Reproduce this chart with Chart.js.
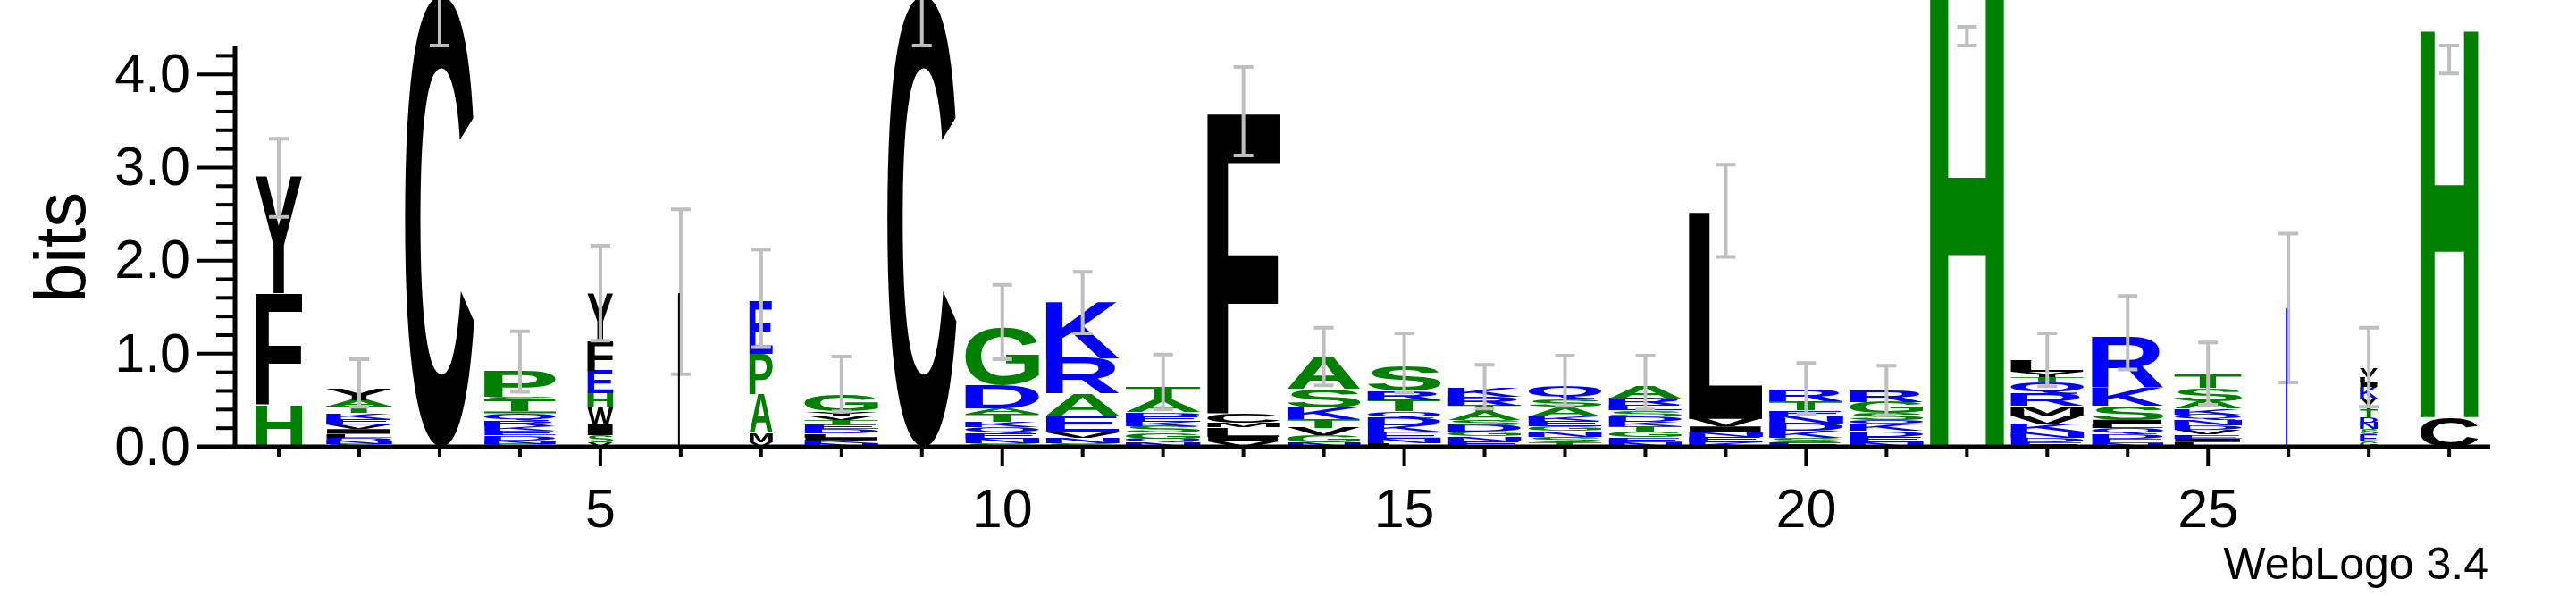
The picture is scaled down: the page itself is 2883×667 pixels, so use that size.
<!DOCTYPE html>
<html><head><meta charset="utf-8">
<script src="https://cdn.jsdelivr.net/npm/chart.js@4"></script>
<style>html,body{margin:0;padding:0;background:#fff}canvas{display:block}</style>
</head><body>
<canvas id="c" width="2883" height="667"></canvas>
<script>
const positions = [1,2,3,4,5,6,7,8,9,10,11,12,13,14,15,16,17,18,19,20,21,22,23,24,25,26,27,28];
// stacks: bottom -> top, [letter, bits]
const stacks = [
 [["H",0.45],["F",1.2],["Y",1.25]],
 [["S",0.03],["N",0.03],["D",0.04],["L",0.04],["I",0.05],["V",0.05],["E",0.06],["K",0.06],["T",0.07],["A",0.07],["Y",0.12]],
 [["C",4.85]],
 [["G",0.03],["N",0.04],["D",0.05],["E",0.05],["K",0.05],["R",0.06],["Q",0.08],["A",0.02],["T",0.12],["S",0.04],["P",0.28]],
 [["V",0.05],["S",0.07],["I",0.12],["W",0.18],["H",0.16],["E",0.24],["F",0.32],["Y",0.5]],
 [["I",1.65]],
 [["V",0.05],["M",0.1],["A",0.42],["P",0.43],["E",0.57]],
 [["N",0.04],["K",0.03],["I",0.03],["L",0.04],["D",0.05],["E",0.05],["T",0.05],["V",0.05],["Y",0.04],["G",0.17]],
 [["C",4.85]],
 [["S",0.04],["N",0.05],["E",0.06],["Q",0.06],["K",0.06],["T",0.08],["A",0.06],["D",0.25],["G",0.62]],
 [["S",0.04],["N",0.06],["V",0.06],["E",0.17],["A",0.24],["R",0.38],["K",0.6]],
 [["N",0.05],["Q",0.04],["G",0.06],["S",0.07],["K",0.05],["E",0.06],["D",0.04],["A",0.14],["T",0.13]],
 [["V",0.06],["I",0.05],["L",0.1],["M",0.05],["C",0.1],["F",3.24]],
 [["N",0.05],["G",0.07],["V",0.08],["T",0.1],["K",0.12],["S",0.2],["A",0.34]],
 [["L",0.04],["N",0.05],["E",0.07],["K",0.07],["D",0.08],["Q",0.07],["T",0.12],["R",0.1],["S",0.27]],
 [["E",0.06],["N",0.05],["G",0.05],["D",0.07],["S",0.06],["A",0.08],["T",0.07],["R",0.1],["K",0.1]],
 [["T",0.05],["S",0.06],["N",0.06],["G",0.05],["E",0.06],["K",0.05],["A",0.1],["S",0.08],["Q",0.14]],
 [["N",0.05],["E",0.05],["G",0.06],["T",0.06],["K",0.05],["D",0.06],["S",0.06],["E",0.06],["R",0.07],["A",0.14]],
 [["K",0.05],["E",0.06],["N",0.05],["I",0.06],["V",0.08],["L",2.22]],
 [["E",0.05],["S",0.05],["K",0.07],["D",0.08],["N",0.08],["E",0.06],["T",0.1],["R",0.12]],
 [["N",0.05],["E",0.06],["D",0.06],["K",0.07],["Q",0.05],["S",0.07],["G",0.12],["R",0.12]],
 [["H",4.85]],
 [["E",0.05],["D",0.05],["N",0.06],["K",0.08],["V",0.1],["M",0.1],["R",0.13],["Q",0.13],["T",0.05],["Y",0.06],["L",0.12]],
 [["N",0.04],["E",0.05],["D",0.05],["Q",0.06],["L",0.05],["I",0.04],["S",0.15],["K",0.2],["R",0.55]],
 [["L",0.05],["I",0.04],["E",0.04],["V",0.05],["D",0.05],["N",0.06],["Q",0.06],["K",0.06],["A",0.08],["S",0.14],["T",0.15]],
 [["K",1.49]],
 [["G",0.06],["E",0.07],["S",0.06],["N",0.07],["D",0.06],["T",0.08],["Y",0.12],["K",0.12],["I",0.05],["L",0.06],["V",0.1]],
 [["C",0.32],["H",4.18]]
];
const colWidth = [0.58,0.82,0.86,0.89,0.32,0.02,0.29,0.92,0.86,0.92,0.91,0.93,0.9,0.91,0.91,0.91,0.91,0.91,0.92,0.92,0.92,0.92,0.91,0.89,0.84,0.02,0.22,0.72];
const errLow  = [2.47,0.43,4.31,0.59,1.14,0.78,1.07,0.38,4.31,0.94,1.22,0.40,3.13,0.66,0.58,0.41,0.44,0.40,2.04,0.35,0.34,4.31,0.65,0.83,0.45,0.69,0.43,4.01];
const errHigh = [3.31,0.94,5.30,1.24,2.16,2.55,2.12,0.97,5.30,1.74,1.88,0.99,4.08,1.28,1.22,0.88,0.98,0.98,3.03,0.90,0.87,4.51,1.22,1.62,1.12,2.29,1.28,4.31];
const yTickLabels = ["0.0","1.0","2.0","3.0","4.0"];
const xTickLabels = [5,10,15,20,25];

const colorOf = l => ("CFYLWVMI".includes(l) ? "#000000" : "HPAGST".includes(l) ? "#008000" : "#0000ff");
const FONT = "Liberation Sans, Arial, sans-serif";

const logoPlugin = {
  id:'logo',
  afterDraw(chart){
    const ctx = chart.ctx, xs = chart.scales.x, ys = chart.scales.y;
    const step = xs.getPixelForValue(2) - xs.getPixelForValue(1);
    ctx.save();
    ctx.font = "bold 200px " + FONT;
    ctx.textBaseline = "alphabetic"; ctx.textAlign = "left";
    const thin = [];
    positions.forEach((p,i)=>{
      const w = colWidth[i]*step, cx = xs.getPixelForValue(p), x0 = cx - w/2;
      let acc = 0;
      stacks[i].forEach(([l,h])=>{
        const yb = ys.getPixelForValue(acc), yt = ys.getPixelForValue(acc+h);
        acc += h;
        const hp = yb - yt;
        if (w < 4) { thin.push([cx-3, yt, hp, colorOf(l)]); return; }
        ctx.fillStyle = colorOf(l);
        if (hp < 2.5) { ctx.fillRect(x0, yt, w, Math.max(hp,1.5)); return; }
        const m = ctx.measureText(l);
        const gw = m.actualBoundingBoxLeft + m.actualBoundingBoxRight;
        const gh = m.actualBoundingBoxAscent + m.actualBoundingBoxDescent;
        ctx.save();
        ctx.translate(x0, yt);
        ctx.scale(w/gw, hp/gh);
        ctx.fillText(l, m.actualBoundingBoxLeft, m.actualBoundingBoxAscent);
        ctx.restore();
      });
    });
    // error bars
    ctx.strokeStyle = "#bfbfbf"; ctx.lineWidth = 4;
    positions.forEach((p,i)=>{
      const cx = xs.getPixelForValue(p), a = ys.getPixelForValue(errLow[i]), b = ys.getPixelForValue(errHigh[i]);
      ctx.beginPath(); ctx.moveTo(cx,a); ctx.lineTo(cx,b);
      ctx.moveTo(cx-11,a); ctx.lineTo(cx+11,a); ctx.moveTo(cx-11,b); ctx.lineTo(cx+11,b); ctx.stroke();
    });
    thin.forEach(([x,y,h,c])=>{ ctx.fillStyle=c; ctx.fillRect(x,y,2,h); });
    // axes
    const y0 = ys.getPixelForValue(0), yTop = ys.getPixelForValue(4.3);
    const xl = xs.getPixelForValue(xs.min), xr = xs.getPixelForValue(xs.max);
    ctx.fillStyle = "#000"; ctx.strokeStyle = "#000";
    ctx.lineWidth = 5;
    ctx.beginPath(); ctx.moveTo(xl, y0); ctx.lineTo(xl, yTop); ctx.stroke();
    ctx.beginPath(); ctx.moveTo(xl-43, y0); ctx.lineTo(xr, y0); ctx.stroke();
    ctx.lineWidth = 4;
    for (let k=0;k<=21;k++){
      const v = k*0.2, yy = ys.getPixelForValue(v), major = (k%5===0);
      ctx.beginPath(); ctx.moveTo(xl, yy); ctx.lineTo(xl-(major?43:21), yy); ctx.stroke();
    }
    positions.forEach(p=>{
      const xx = xs.getPixelForValue(p), major = xTickLabels.includes(p);
      ctx.beginPath(); ctx.moveTo(xx, y0); ctx.lineTo(xx, y0+(major?22:11)); ctx.stroke();
    });
    ctx.font = "61px " + FONT;
    ctx.textAlign = "right"; ctx.textBaseline = "middle";
    yTickLabels.forEach((t,k)=> ctx.fillText(t, xl-50, ys.getPixelForValue(k)+3));
    ctx.textAlign = "center"; ctx.textBaseline = "alphabetic";
    xTickLabels.forEach(v=> ctx.fillText(String(v), xs.getPixelForValue(v), 590));
    ctx.save(); ctx.translate(95, 277); ctx.rotate(-Math.PI/2);
    ctx.font = "80px " + FONT; ctx.textAlign="center"; ctx.fillText("bits", 0, 0); ctx.restore();
    ctx.font = "50px " + FONT; ctx.textAlign = "right";
    ctx.fillText("WebLogo 3.4", 2785, 648);
    ctx.restore();
  }
};

new Chart(document.getElementById('c'), {
  type: 'scatter',
  data: { datasets: [{ data: positions.map((p,i)=>({x:p, y:0})), pointRadius:0 }] },
  options: {
    responsive:false, animation:false, devicePixelRatio:1,
    layout:{ padding:{ left:263, right:96, top:52, bottom:167 } },
    plugins:{ legend:{display:false}, tooltip:{enabled:false} },
    scales:{
      x:{ type:'linear', min:0.455, max:28.51, display:false },
      y:{ type:'linear', min:0, max:4.3, display:false }
    }
  },
  plugins:[logoPlugin]
});
</script>
</body></html>
